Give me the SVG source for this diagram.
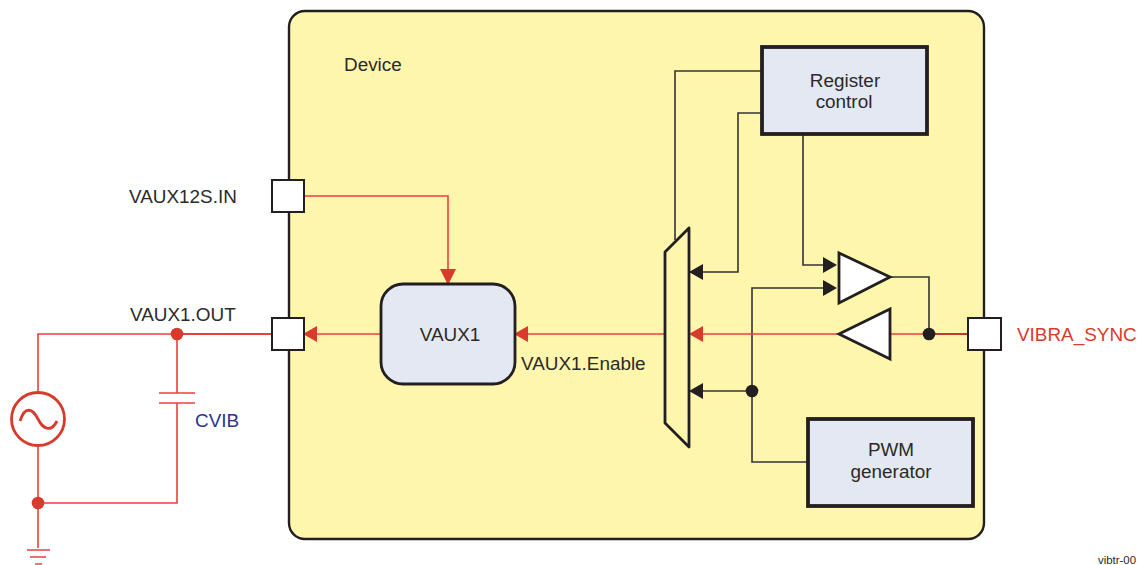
<svg xmlns="http://www.w3.org/2000/svg" width="1138" height="565" viewBox="0 0 1138 565">
<style>
text{font-family:"Liberation Sans",Arial,sans-serif;font-size:18.9px;fill:#2b2a29}
.c{text-anchor:middle}
.blk{fill:none;stroke:#333;stroke-width:1.6}
.red{fill:none;stroke:#ef3e42;stroke-width:1.6}
.pin{fill:#fff;stroke:#231f20;stroke-width:2}
.box{fill:#e3e8f2;stroke:#231f20;stroke-width:3.8}
.amp{fill:#fff;stroke:#231f20;stroke-width:2.8}
.rd{fill:#d83a2b}
.bd{fill:#231f20}
</style>
<defs>
<path id="al" d="M0 0L14 -8V8Z"/>
<path id="ar" d="M0 0L-14 -8V8Z"/>
</defs>
<g id="device"><rect x="289" y="11" width="695" height="528" rx="16" fill="#fff6ae" stroke="#231f20" stroke-width="2.4"/><text x="344" y="71">Device</text></g>
<g id="connectors">
<path class="blk" d="M675 240V71H762M689 272H738V113H762M803 134V265H826M826 288H752V462H808M690 391H752"/>
<path class="blk" d="M890 277H929V334"/>
<path class="red" d="M304 196H448V272M316 334H381M528 334H665M703 334H839M891 334H968M177 334V393M177 403V503H38M38 447V548M159 393H195M159 403H195M27 550H50M30 557H46M35 564H42M177 334H38V392"/>
<path d="M177 334H272" fill="none" stroke="#ef3e42" stroke-width="2.200"/>
<path d="M929 334H968" fill="none" stroke="#c8352f" stroke-width="2.200"/>
<use href="#al" x="303" y="334" class="rd"/><use href="#al" x="514" y="334" class="rd"/><use href="#al" x="689" y="334" class="rd"/>
<path class="rd" d="M448 285L440 269H456Z"/>
<use href="#al" x="689" y="272" class="bd"/><use href="#al" x="689" y="391" class="bd"/>
<use href="#ar" x="837" y="265" class="bd"/><use href="#ar" x="837" y="288" class="bd"/>
<circle cx="177" cy="334" r="6.300" class="rd"/><circle cx="38" cy="503" r="6.300" class="rd"/>
<circle cx="929" cy="334" r="6.300" class="bd"/><circle cx="752" cy="391" r="6.300" class="bd"/>
</g>
<g id="source"><circle cx="38" cy="419" r="26.500" fill="#fff" stroke="#d83a2b" stroke-width="2.800"/><path d="M20 421C25 405 33 409 38 419S51 433 57 421" fill="none" stroke="#d83a2b" stroke-width="2.800"/></g>
<g id="vaux12s-pin"><rect class="pin" x="272" y="180" width="32" height="32"/><text x="129" y="203">VAUX12S.IN</text></g>
<g id="vaux1-out-pin"><rect class="pin" x="272" y="318" width="32" height="32"/><text x="130" y="321">VAUX1.OUT</text></g>
<g id="vibra-pin"><rect class="pin" x="968" y="318" width="33" height="32"/><text x="1017" y="341" style="fill:#d83a2b">VIBRA_SYNC</text></g>
<g id="cvib"><text x="195" y="427" style="fill:#2e3192">CVIB</text></g>
<g id="vaux1"><rect class="box" style="stroke-width:2.8" x="381" y="284" width="134" height="100" rx="22"/><text class="c" x="450" y="341">VAUX1</text></g>
<g id="mux"><path d="M689 228L665 252V423L689 447Z" fill="#fff6ae" stroke="#231f20" stroke-width="2.800" stroke-linejoin="round"/></g>
<g id="mux-label"><text x="521" y="370">VAUX1.Enable</text></g>
<g id="reg"><rect class="box" x="762" y="47" width="165" height="87"/><text class="c" x="845" y="87">Register</text><text class="c" x="844" y="108">control</text></g>
<g id="pwm"><rect class="box" x="808" y="419" width="165" height="87"/><text class="c" x="891" y="456">PWM</text><text class="c" x="891" y="478">generator</text></g>
<g id="amp-out"><path class="amp" d="M839 253L890 277L839 303Z"/></g>
<g id="amp-in"><path class="amp" d="M890 309L839 334L890 359Z"/></g>
<g id="ref"><text x="1098" y="564" style="font-size:11.400px">vibtr-00</text></g>
</svg>
